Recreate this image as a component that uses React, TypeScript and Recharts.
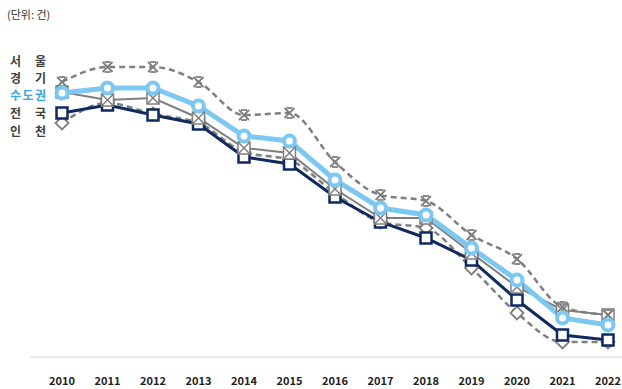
import { CartesianGrid, Line, LineChart, XAxis, YAxis } from "recharts";

// 연도별 추이 (단위: 건) — 그림에서 읽은 근사값
const years = ["2010", "2011", "2012", "2013", "2014", "2015", "2016", "2017", "2018", "2019", "2020", "2021", "2022"];
const seoul = [275, 290, 290, 275, 242, 244, 195, 162, 156, 122, 98, 50, 42];
const metro = [264, 269, 269, 251, 221, 216, 177, 149, 142, 109, 77, 39, 32];
const gyeonggi = [265, 257, 259, 239, 209, 204, 168, 139, 139, 104, 70, 47, 42];
const national = [244, 252, 242, 233, 200, 193, 160, 135, 119, 97, 57, 22, 17];
const incheon = [234, 254, 243, 234, 205, 197, 164, 135, 129, 89, 44, 15, 15];

const data = years.map((year, i) => ({
  year,
  seoul: seoul[i],
  metro: metro[i],
  gyeonggi: gyeonggi[i],
  national: national[i],
  incheon: incheon[i],
}));

const grey = "#7f7f7f";
const navy = "#0f2a5e";
const blue = "#7cc8f2";

const legend = [
  { label: "서울", color: "#404040", top: 53 },
  { label: "경기", color: "#404040", top: 70 },
  { label: "수도권", color: "#3aa6e0", top: 87 },
  { label: "전국", color: "#404040", top: 105 },
  { label: "인천", color: "#404040", top: 123 },
];

function StarX({ cx, cy }: any) {
  const s = 5;
  return (
    <g stroke={grey} strokeWidth={1.8} fill="none">
      <line x1={cx - s} y1={cy - s} x2={cx + s} y2={cy + s} />
      <line x1={cx + s} y1={cy - s} x2={cx - s} y2={cy + s} />
      <line x1={cx - 3} y1={cy - s} x2={cx + 3} y2={cy - s} />
      <line x1={cx - 3} y1={cy + s} x2={cx + 3} y2={cy + s} />
    </g>
  );
}

function BoxX({ cx, cy }: any) {
  const s = 6;
  return (
    <g stroke={grey} strokeWidth={1.5}>
      <rect x={cx - s} y={cy - s} width={s * 2} height={s * 2} fill="#fff" />
      <line x1={cx - s} y1={cy - s} x2={cx + s} y2={cy + s} />
      <line x1={cx + s} y1={cy - s} x2={cx - s} y2={cy + s} />
    </g>
  );
}

function Square({ cx, cy }: any) {
  const s = 5.5;
  return <rect x={cx - s} y={cy - s} width={s * 2} height={s * 2} fill="#fff" stroke={navy} strokeWidth={2.5} />;
}

function Diamond({ cx, cy }: any) {
  const s = 6.5;
  return (
    <path
      d={`M${cx},${cy - s} L${cx + s},${cy} L${cx},${cy + s} L${cx - s},${cy} Z`}
      fill="#fff"
      stroke={grey}
      strokeWidth={1.8}
    />
  );
}

function Ring({ cx, cy }: any) {
  return <circle cx={cx} cy={cy} r={5.5} fill="#fff" stroke={blue} strokeWidth={4} />;
}

export default function App() {
  return (
    <div style={{ position: "relative", width: 622, height: 389, fontFamily: "'Noto Sans CJK KR', sans-serif" }}>
      <style>{"body{margin:0;background:#fff}"}</style>
      <div style={{ position: "absolute", left: 7, top: 6, fontSize: 11, color: "#333" }}>(단위: 건)</div>
      {legend.map((l) => (
        <div
          key={l.label}
          style={{
            position: "absolute",
            left: 10,
            top: l.top,
            width: 36,
            display: "flex",
            justifyContent: "space-between",
            whiteSpace: "nowrap",
            fontSize: 12,
            fontWeight: 700,
            color: l.color,
            lineHeight: "16px",
          }}
        >
          {l.label.split("").map((ch, i) => (
            <span key={i}>{ch}</span>
          ))}
        </div>
      ))}
      <LineChart width={622} height={389} data={data} margin={{ top: 57, right: 0, bottom: 0, left: 30 }}>
        <CartesianGrid horizontal={false} vertical={false} />
        <XAxis
          dataKey="year"
          height={32}
          padding={{ left: 32, right: 14 }}
          axisLine={{ stroke: "#e3e3e3", strokeWidth: 1.5 }}
          tickLine={false}
          tickMargin={14}
          tick={{ fontSize: 11, fontWeight: 700, fill: "#222" }}
          interval={0}
        />
        <YAxis hide domain={[0, 300]} />
        <Line
          dataKey="incheon"
          type="monotone"
          stroke={grey}
          strokeWidth={2.5}
          strokeDasharray="6 4"
          dot={(p: any) => <Diamond key={`i${p.index}`} cx={p.cx} cy={p.cy} />}
          isAnimationActive={false}
        />
        <Line
          dataKey="national"
          type="linear"
          stroke={navy}
          strokeWidth={3}
          dot={(p: any) => <Square key={`n${p.index}`} cx={p.cx} cy={p.cy} />}
          isAnimationActive={false}
        />
        <Line
          dataKey="gyeonggi"
          type="linear"
          stroke={grey}
          strokeWidth={2}
          dot={(p: any) => <BoxX key={`g${p.index}`} cx={p.cx} cy={p.cy} />}
          isAnimationActive={false}
        />
        <Line
          dataKey="seoul"
          type="monotone"
          stroke={grey}
          strokeWidth={2.5}
          strokeDasharray="6 4"
          dot={(p: any) => <StarX key={`s${p.index}`} cx={p.cx} cy={p.cy} />}
          isAnimationActive={false}
        />
        <Line
          dataKey="metro"
          type="linear"
          stroke={blue}
          strokeWidth={5}
          dot={(p: any) => <Ring key={`m${p.index}`} cx={p.cx} cy={p.cy} />}
          isAnimationActive={false}
        />
      </LineChart>
    </div>
  );
}
